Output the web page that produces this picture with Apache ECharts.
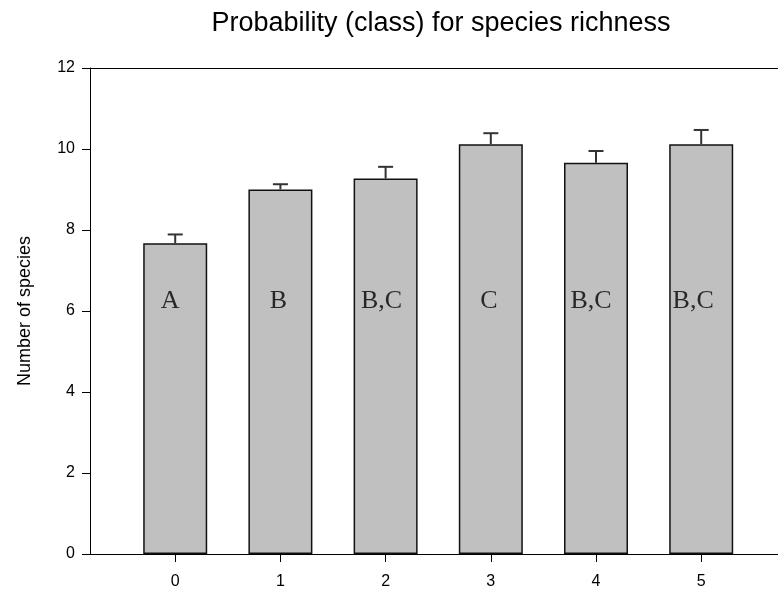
<!DOCTYPE html>
<html>
<head>
<meta charset="utf-8">
<script src="https://cdn.jsdelivr.net/npm/echarts@6/dist/echarts.min.js"></script>
<style>
  html, body { margin: 0; padding: 0; background: #fff; }
  #chart { width: 778px; height: 593px; }
</style>
</head>
<body>
<div id="chart"></div>
<script>
// probability class on the x axis
const classes = [0, 1, 2, 3, 4, 5];
// mean species richness per class
const meanValues = [7.67, 9.0, 9.27, 10.12, 9.66, 10.12];
// upper end of the error bar (mean + SE)
const upperValues = [7.89, 9.13, 9.56, 10.39, 9.95, 10.47];
// significance letters written inside the bars
const groupLetters = ['A', 'B', 'B,C', 'C', 'B,C', 'B,C'];
const letterY = 6.25;
const yTicks = [0, 2, 4, 6, 8, 10, 12];

const sans = 'Arial, "Liberation Sans", sans-serif';
const serif = '"Times New Roman", "Liberation Serif", serif';

const chart = echarts.init(document.getElementById('chart'));

// 字母的水平微调（像素）
const letterShift = [-5, -2, -4, -2, -5, -8];

const option = {
  animation: false,
  backgroundColor: '#fff',
  title: {
    text: 'Probability (class) for species richness',
    left: 436,
    top: 5,
    textAlign: 'center',
    textStyle: { fontFamily: sans, fontSize: 27, fontWeight: 'normal', color: '#000' }
  },
  grid: { left: 90, right: 0, top: 68, bottom: 39 },
  xAxis: [
    {
      type: 'value',
      min: -0.81,
      max: 5.73,
      axisLine: { show: true, onZero: false, lineStyle: { color: '#000', width: 1 } },
      axisTick: { show: true, customValues: classes, length: 8, lineStyle: { color: '#000' } },
      axisLabel: {
        customValues: classes,
        margin: 20,
        fontFamily: sans, fontSize: 16, color: '#000'
      },
      splitLine: { show: false }
    },
    {
      // 上边框
      type: 'value',
      position: 'top',
      min: -0.81,
      max: 5.73,
      axisLine: { show: true, onZero: false, lineStyle: { color: '#000', width: 1 } },
      axisTick: { show: false },
      axisLabel: { show: false },
      splitLine: { show: false }
    }
  ],
  yAxis: {
    type: 'value',
    min: yTicks[0],
    max: yTicks[yTicks.length - 1],
    interval: 2,
    name: 'Number of species',
    nameLocation: 'middle',
    nameGap: 56,
    nameTextStyle: { fontFamily: sans, fontSize: 18, color: '#000' },
    axisLine: { show: true, onZero: false, lineStyle: { color: '#000', width: 1 } },
    axisTick: { show: true, length: 8, lineStyle: { color: '#000' } },
    axisLabel: { margin: 15, fontFamily: sans, fontSize: 16, color: '#000' },
    splitLine: { show: false }
  },
  series: [
    {
      type: 'bar',
      data: classes.map((c, i) => [c, meanValues[i]]),
      barWidth: 64,
      itemStyle: { color: '#c0c0c0', borderColor: '#111', borderWidth: 1.5 },
      z: 2
    },
    {
      // 误差线（只画上半部分）
      type: 'custom',
      data: classes.map((c, i) => [c, meanValues[i], upperValues[i]]),
      renderItem(params, api) {
        const base = api.coord([api.value(0), api.value(1)]);
        const top = api.coord([api.value(0), api.value(2)]);
        const half = 7.5;
        const style = { stroke: '#333', lineWidth: 2 };
        return {
          type: 'group',
          children: [
            { type: 'line', shape: { x1: base[0], y1: base[1], x2: top[0], y2: top[1] }, style },
            { type: 'line', shape: { x1: top[0] - half, y1: top[1], x2: top[0] + half, y2: top[1] }, style }
          ]
        };
      },
      z: 3
    },
    {
      type: 'scatter',
      symbolSize: 0,
      data: classes.map((c, i) => ({
        value: [c, letterY],
        label: {
          show: true,
          position: 'inside',
          offset: [letterShift[i], 0],
          formatter: groupLetters[i]
        }
      })),
      label: { fontFamily: serif, fontSize: 26, color: '#000' },
      z: 4
    }
  ]
};

chart.setOption(option);
</script>
</body>
</html>
